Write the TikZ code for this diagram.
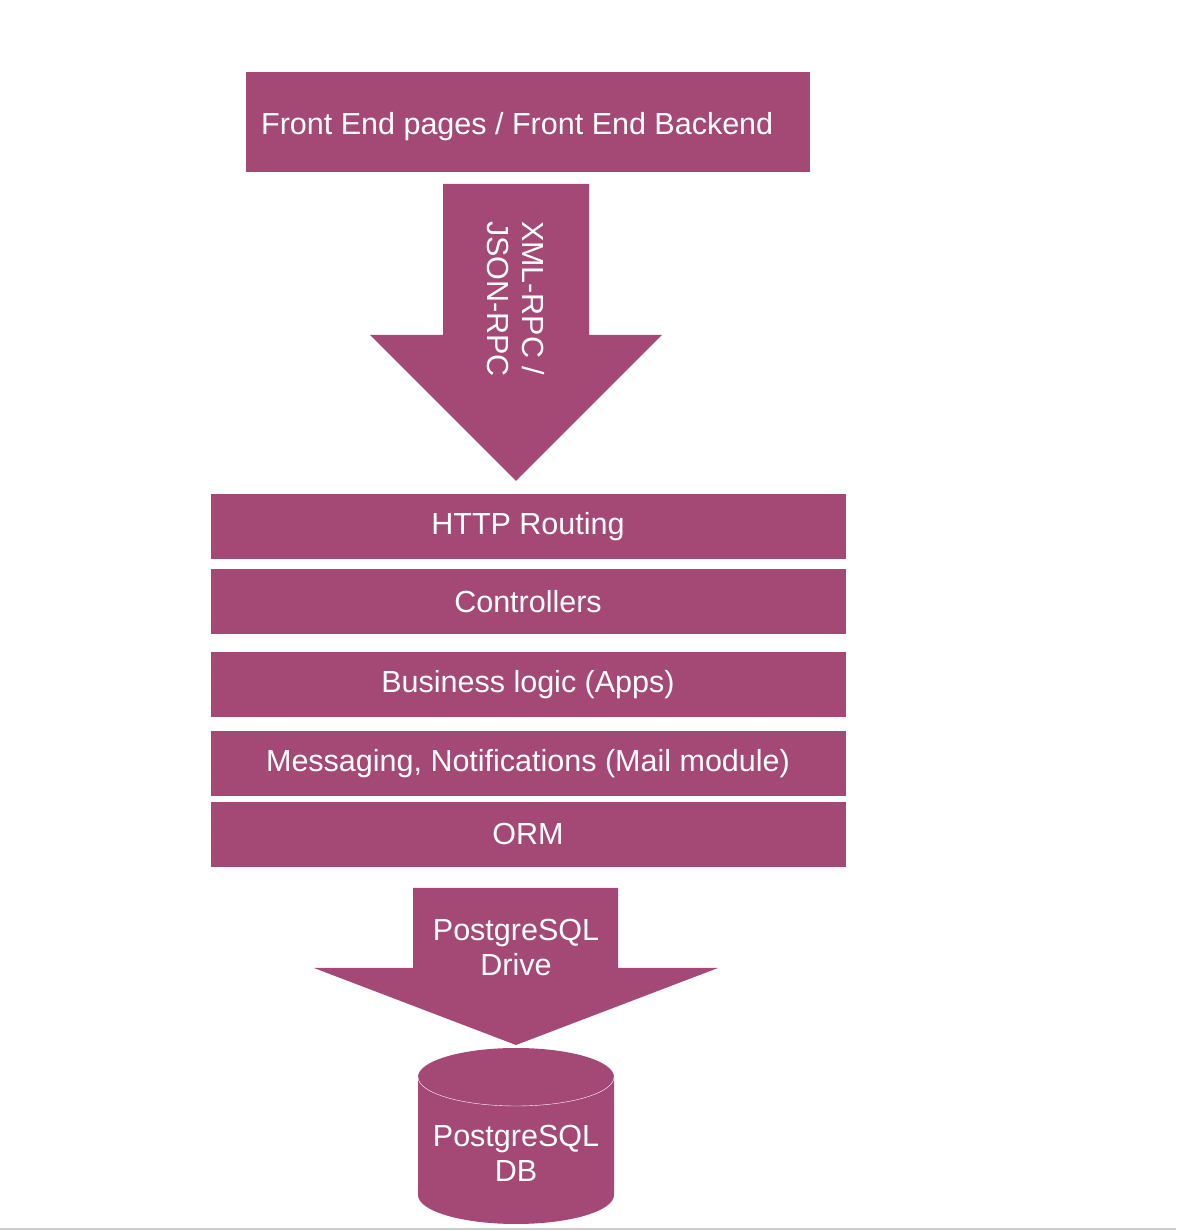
\documentclass[tikz,border=0pt]{standalone}
\usepackage{fontspec}
\setmainfont{Liberation Sans}
\usepackage{xcolor}
\usetikzlibrary{positioning}
\definecolor{plum}{RGB}{164,72,118}

\begin{document}
\begin{tikzpicture}[x=1pt,y=1pt,
                    layer/.style={fill=plum, text=white, inner sep=0pt,
                                  minimum width=635pt, minimum height=65pt,
                                  font=\fontsize{30.5}{35}\selectfont},
                    label/.style={text=white, align=center, inner sep=0pt,
                                  font=\fontsize{30.5}{35}\selectfont},
                    blockarrow/.style={fill=plum},
                   ]

\useasboundingbox (0,0) rectangle (1176,1230);

% front end box
\fill[plum] (246,1058) rectangle (810,1158);
\node[label, anchor=west] (front) at (261,1103) {Front End pages / Front End Backend};

% rpc arrow
\fill[blockarrow] (443,1046) -- (589,1046) -- (589,895) -- (662,895)
      -- (516,749) -- (370,895) -- (443,895) -- cycle;
\node[label, align=left, rotate=-90] (rpc) at (516,931) {XML-RPC /\\JSON-RPC};

% server layers
\node[layer] (http) at (528,703) {HTTP Routing};
\node[layer] (ctrl) at (528,628.5) {Controllers};
\node[layer] (apps) at (528,545.5) {Business logic (Apps)};
\node[layer] (mail) at (528,466.5) {Messaging, Notifications (Mail module)};
\node[layer] (orm)  at (528,395.5) {ORM};

% driver arrow
\fill[blockarrow] (413,342) -- (618,342) -- (618,262) -- (718,262)
      -- (516,185) -- (314,262) -- (413,262) -- cycle;
\node[label] (drive) at (516,282) {PostgreSQL\\Drive};

% database
\fill[plum] (418,153) arc[start angle=180, end angle=0, x radius=98, y radius=29]
      -- (614,35) arc[start angle=0, end angle=-180, x radius=98, y radius=29] -- cycle;
\draw[white, thin] (418,153) arc[start angle=180, end angle=360, x radius=98, y radius=29];
\node[label] (db) at (516,77) {PostgreSQL\\DB};

% page edge
\fill[black!20] (0,0) rectangle (1176,2);

\end{tikzpicture}
\end{document}
